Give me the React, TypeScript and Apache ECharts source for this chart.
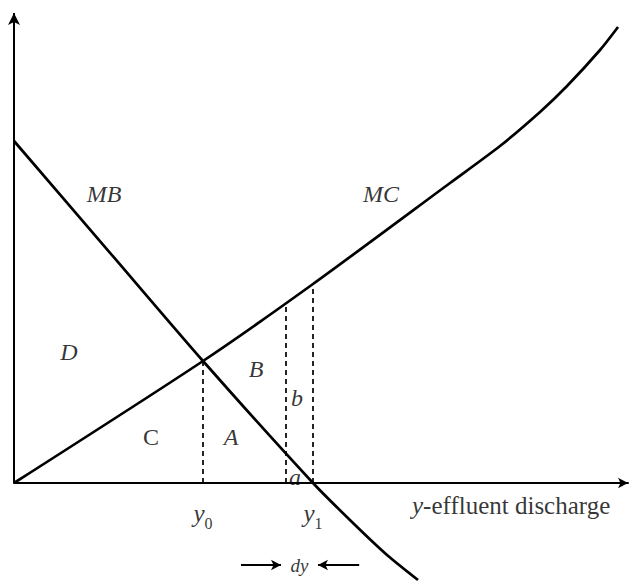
import React, { useEffect, useRef } from "react";
import * as echarts from "echarts";

// Marginal cost (MC) curve: x = effluent discharge, y = value
const MC_X = [0, 3.15, 4.983, 7.267, 8.1, 8.767, 9.217, 9.767, 10.067];
const MC_Y = [0, 3.05, 4.975, 7.5, 8.425, 9.275, 9.925, 10.825, 11.4];

// Marginal benefit (MB) curve
const MB_X = [0, 1.6, 3.15, 4.983, 5.65, 6.217, 6.733];
const MB_Y = [8.55, 5.756, 3.05, 0, -1.0, -1.8, -2.425];

// Vertical dashed guides: y0 and the two edges of dy
const DASH_X = [3.15, 4.533, 4.983];
const DASH_TOP = [3.05, 4.45, 4.975];

// Region / curve labels
const LABEL_TEXT = ["MB", "MC", "D", "C", "A", "B", "b", "a"];
const LABEL_ITALIC = [true, true, true, false, true, true, true, true];
const LABEL_X = [1.5, 6.117, 0.917, 2.283, 3.617, 4.033, 4.717, 4.683];
const LABEL_Y = [7.225, 7.225, 3.275, 1.15, 1.15, 2.85, 2.125, 0.15];

const X_MAX = 10.233;
const Y_MIN = -2.5;
const Y_MAX = 11.9;

const FONT = "'Liberation Serif', 'DejaVu Serif', serif";

export default function App() {
  const ref = useRef<HTMLDivElement>(null);

  useEffect(() => {
    document.body.style.margin = "0";
    document.body.style.overflow = "hidden";
    const chart = echarts.init(ref.current!, null, { renderer: "svg" });

    const pair = (xs: number[], ys: number[]) => xs.map((x, i) => [x, ys[i]]);

    const labelData = LABEL_TEXT.map((t, i) => ({
      value: [LABEL_X[i], LABEL_Y[i]],
      label: {
        formatter: t,
        fontStyle: LABEL_ITALIC[i] ? "italic" : "normal",
      },
    }));

    const dyY = -2.05;
    const arrowLen = 0.75;
    const tip = 0.083;

    const option: any = {
      animation: false,
      grid: { left: 14, top: 7, width: 614, height: 576 },
      xAxis: {
        type: "value",
        min: 0,
        max: X_MAX,
        axisLine: {
          show: true,
          onZero: true,
          symbol: ["none", "arrow"],
          symbolSize: [8, 10],
          lineStyle: { color: "#000", width: 2 },
        },
        axisTick: { show: false },
        axisLabel: { show: false },
        splitLine: { show: false },
      },
      yAxis: {
        type: "value",
        min: Y_MIN,
        max: Y_MAX,
        axisLine: { show: false },
        axisTick: { show: false },
        axisLabel: { show: false },
        splitLine: { show: false },
      },
      series: [
        {
          name: "MC",
          type: "line",
          data: pair(MC_X, MC_Y),
          showSymbol: false,
          smooth: 0.25,
          silent: true,
          lineStyle: { color: "#000", width: 2.7 },
        },
        {
          name: "MB",
          type: "line",
          data: pair(MB_X, MB_Y),
          showSymbol: false,
          smooth: 0.25,
          silent: true,
          lineStyle: { color: "#000", width: 2.7 },
        },
        {
          name: "guides",
          type: "line",
          data: [],
          silent: true,
          markLine: {
            silent: true,
            animation: false,
            label: { show: false },
            emphasis: { disabled: true },
            data: [
              // y axis with arrow
              [
                { coord: [0, 0], symbol: "none", lineStyle: { type: "solid", width: 2, color: "#000" } },
                { coord: [0, 11.75], symbol: "arrow", symbolSize: [9, 12] },
              ],
              // dashed verticals
              ...DASH_X.map((x, i) => [
                { coord: [x, 0], symbol: "none", lineStyle: { type: [5, 4], width: 1.7, color: "#000" } },
                { coord: [x, DASH_TOP[i]], symbol: "none" },
              ]),
              // dy arrows
              [
                { coord: [DASH_X[1] - arrowLen, dyY], symbol: "none", lineStyle: { type: "solid", width: 2, color: "#000" } },
                { coord: [DASH_X[1] - tip, dyY], symbol: "arrow", symbolSize: [8, 10] },
              ],
              [
                { coord: [DASH_X[2] + arrowLen + 0.02, dyY], symbol: "none", lineStyle: { type: "solid", width: 2, color: "#000" } },
                { coord: [DASH_X[2] + tip, dyY], symbol: "arrow", symbolSize: [8, 10] },
              ],
            ],
          },
        },
        {
          name: "labels",
          type: "scatter",
          symbolSize: 0,
          silent: true,
          data: labelData,
          label: {
            show: true,
            position: [0, 0],
            align: "center",
            verticalAlign: "middle",
            fontFamily: FONT,
            fontSize: 24,
            color: "#000",
          },
        },
        {
          name: "axisLabels",
          type: "scatter",
          symbolSize: 0,
          silent: true,
          data: [
            { value: [DASH_X[0], -0.75], label: { formatter: "{i|y}{s|0}" } },
            { value: [DASH_X[2], -0.75], label: { formatter: "{i|y}{s|1}" } },
            { value: [6.633, -0.55], label: { formatter: "{i|y}{r|-effluent discharge}", align: "left" } },
            { value: [(DASH_X[1] + DASH_X[2]) / 2, dyY], label: { formatter: "{d|dy}" } },
          ],
          label: {
            show: true,
            position: [0, 0],
            align: "center",
            verticalAlign: "middle",
            color: "#000",
            rich: {
              i: { fontFamily: FONT, fontStyle: "italic", fontSize: 25, lineHeight: 36, color: "#000" },
              s: { fontFamily: FONT, fontSize: 16, lineHeight: 15, verticalAlign: "bottom", padding: [0, 0, 0, 0], color: "#000" },
              r: { fontFamily: FONT, fontSize: 25, lineHeight: 36, color: "#000" },
              d: { fontFamily: FONT, fontStyle: "italic", fontSize: 19, lineHeight: 24, color: "#000" },
            },
          },
        },
      ],
    };

    chart.setOption(option);
    return () => chart.dispose();
  }, []);

  return <div ref={ref} style={{ width: 636, height: 584 }} />;
}
